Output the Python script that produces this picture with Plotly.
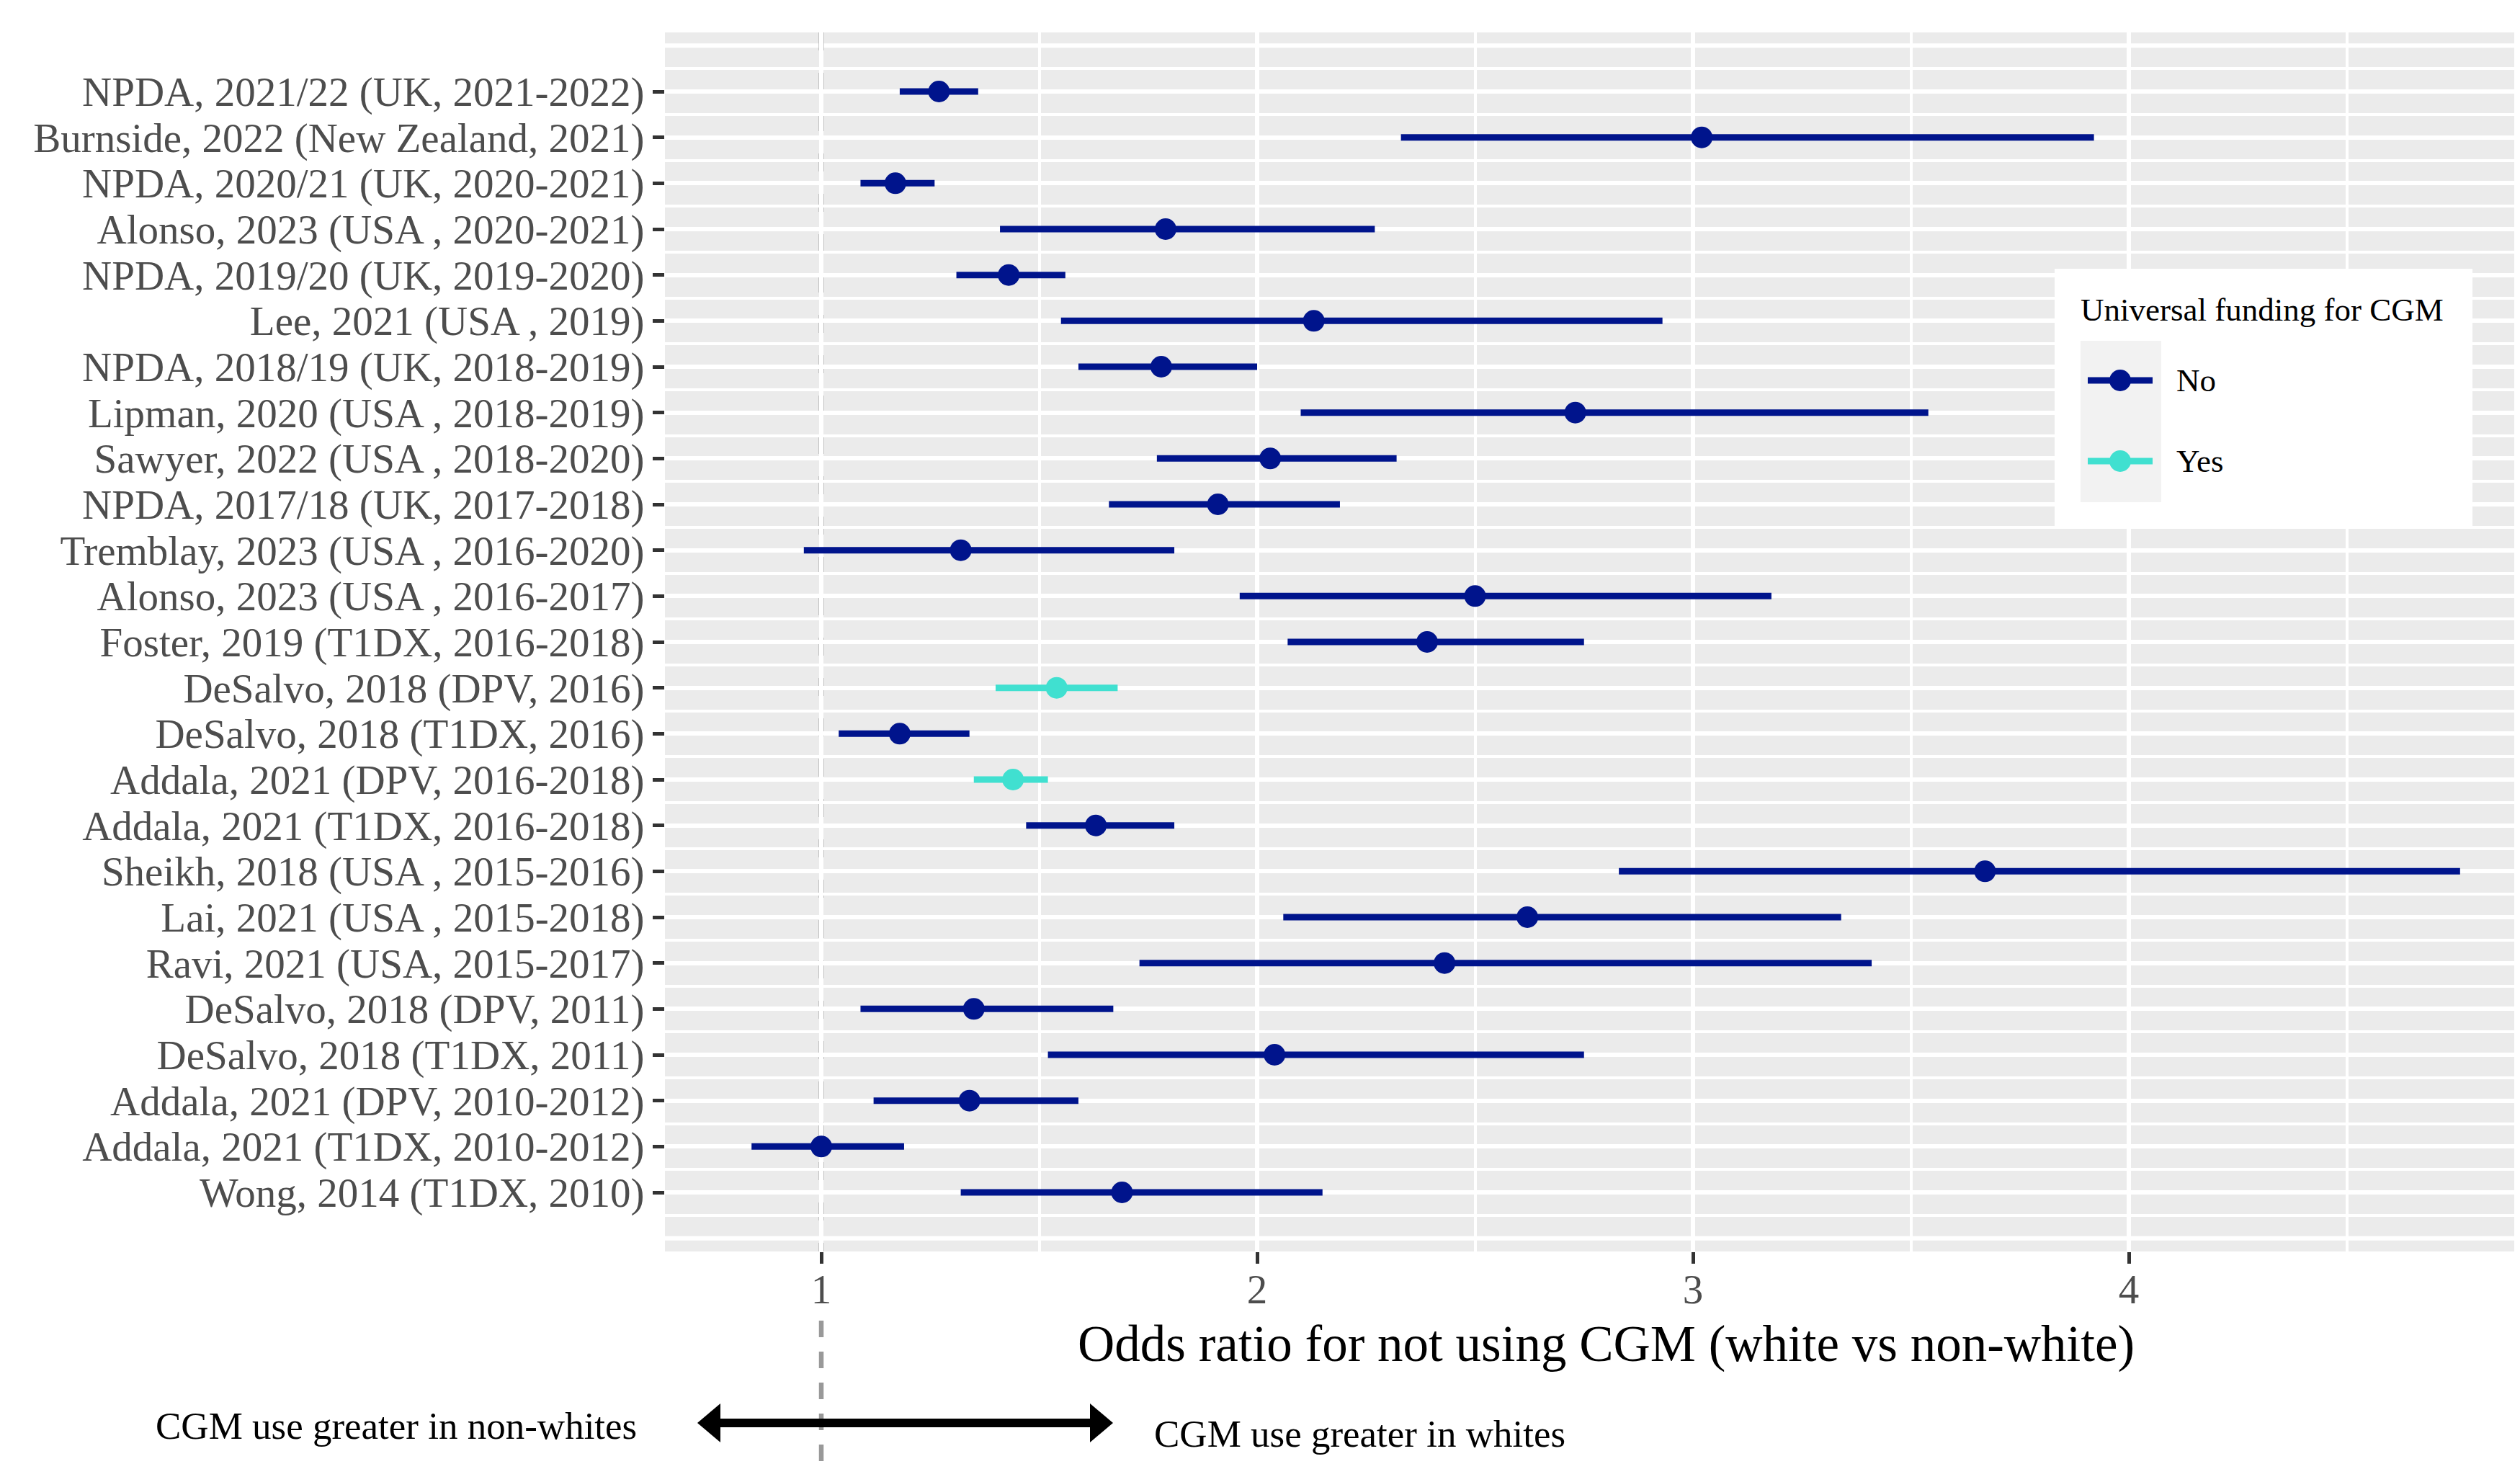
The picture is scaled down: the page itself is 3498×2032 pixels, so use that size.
import plotly.graph_objects as go

# ---------------- data ----------------
studies = [
    "NPDA, 2021/22 (UK, 2021-2022)",
    "Burnside, 2022 (New Zealand, 2021)",
    "NPDA, 2020/21 (UK, 2020-2021)",
    "Alonso, 2023 (USA , 2020-2021)",
    "NPDA, 2019/20 (UK, 2019-2020)",
    "Lee, 2021 (USA , 2019)",
    "NPDA, 2018/19 (UK, 2018-2019)",
    "Lipman, 2020 (USA , 2018-2019)",
    "Sawyer, 2022 (USA , 2018-2020)",
    "NPDA, 2017/18 (UK, 2017-2018)",
    "Tremblay, 2023 (USA , 2016-2020)",
    "Alonso, 2023 (USA , 2016-2017)",
    "Foster, 2019 (T1DX, 2016-2018)",
    "DeSalvo, 2018 (DPV, 2016)",
    "DeSalvo, 2018 (T1DX, 2016)",
    "Addala, 2021 (DPV, 2016-2018)",
    "Addala, 2021 (T1DX, 2016-2018)",
    "Sheikh, 2018 (USA , 2015-2016)",
    "Lai, 2021 (USA , 2015-2018)",
    "Ravi, 2021 (USA, 2015-2017)",
    "DeSalvo, 2018 (DPV, 2011)",
    "DeSalvo, 2018 (T1DX, 2011)",
    "Addala, 2021 (DPV, 2010-2012)",
    "Addala, 2021 (T1DX, 2010-2012)",
    "Wong, 2014 (T1DX, 2010)",
]
odds_ratio = [1.27, 3.02, 1.17, 1.79, 1.43, 2.13, 1.78, 2.73, 2.03, 1.91,
              1.32, 2.50, 2.39, 1.54, 1.18, 1.44, 1.63, 3.67, 2.62, 2.43,
              1.35, 2.04, 1.34, 1.00, 1.69]
ci_lower = [1.18, 2.33, 1.09, 1.41, 1.31, 1.55, 1.59, 2.10, 1.77, 1.66,
            0.96, 1.96, 2.07, 1.40, 1.04, 1.35, 1.47, 2.83, 2.06, 1.73,
            1.09, 1.52, 1.12, 0.84, 1.32]
ci_upper = [1.36, 3.92, 1.26, 2.27, 1.56, 2.93, 2.00, 3.54, 2.32, 2.19,
            1.81, 3.18, 2.75, 1.68, 1.34, 1.52, 1.81, 4.76, 3.34, 3.41,
            1.67, 2.75, 1.59, 1.19, 2.15]
universal_funding = ["No", "No", "No", "No", "No", "No", "No", "No", "No", "No",
                     "No", "No", "No", "Yes", "No", "Yes", "No", "No", "No", "No",
                     "No", "No", "No", "No", "No"]
x_ticks = [1, 2, 3, 4]
x_minor = [1.5, 2.5, 3.5, 4.5]
x_title = "Odds ratio for not using CGM (white vs non-white)"
legend_title = "Universal funding for CGM"

colors = {"No": "#00148C", "Yes": "#40E0D0"}
FONT = "Liberation Serif"

# ---------------- layout geometry (page pixels) ----------------
OFF = 8                      # default page margin around the figure div
W, H = 3498 - OFF, 2032 - OFF
PL, PR, PT, PB = 923, 3498, 45, 1737   # panel edges in page pixels


def fx(px):
    return (px - PL) / (PR - PL)


def fy(py):
    return (PB - py) / (PB - PT)


rows = list(range(1, len(studies) + 1))

fig = go.Figure()
for grp in ["No", "Yes"]:
    idx = [i for i, g in enumerate(universal_funding) if g == grp]
    fig.add_trace(go.Scatter(
        x=[odds_ratio[i] for i in idx],
        y=[rows[i] for i in idx],
        mode="markers",
        name=grp,
        showlegend=False,
        marker=dict(size=30, color=colors[grp], line=dict(width=0)),
        error_x=dict(
            type="data", symmetric=False,
            array=[ci_upper[i] - odds_ratio[i] for i in idx],
            arrayminus=[odds_ratio[i] - ci_lower[i] for i in idx],
            color=colors[grp], thickness=9, width=0,
        ),
    ))

shapes = []
# extra major gridlines at the padded (empty) rows
for yv in [0, len(studies) + 1]:
    shapes.append(dict(type="line", xref="paper", yref="y", x0=0, x1=1, y0=yv, y1=yv,
                       line=dict(color="white", width=6), layer="between"))
# dashed reference line at OR = 1
shapes.append(dict(type="line", xref="x", yref="paper", x0=1, x1=1, y0=1, y1=0,
                   line=dict(color="#999999", width=7, dash="25px,31px"), layer="between"))
shapes.append(dict(type="line", xref="x", yref="paper", x0=1, x1=1, y0=fy(1833), y1=fy(2032),
                   line=dict(color="#999999", width=6.5, dash="23px,20px"), layer="above"))
# double-headed arrow
ay = 1975
shapes.append(dict(type="line", xref="paper", yref="paper", x0=fx(998), x1=fx(1515), y0=fy(ay), y1=fy(ay),
                   line=dict(color="black", width=12), layer="above"))
shapes.append(dict(type="path", xref="paper", yref="paper",
                   path=f"M {fx(968)},{fy(ay)} L {fx(1000)},{fy(ay-27)} L {fx(1000)},{fy(ay+27)} Z",
                   fillcolor="black", line=dict(width=0), layer="above"))
shapes.append(dict(type="path", xref="paper", yref="paper",
                   path=f"M {fx(1545)},{fy(ay)} L {fx(1513)},{fy(ay-27)} L {fx(1513)},{fy(ay+27)} Z",
                   fillcolor="black", line=dict(width=0), layer="above"))
# legend box
shapes.append(dict(type="rect", xref="paper", yref="paper", x0=fx(2852), x1=fx(3432), y0=fy(373), y1=fy(730),
                   fillcolor="white", line=dict(width=0), layer="above"))
shapes.append(dict(type="rect", xref="paper", yref="paper", x0=fx(2888), x1=fx(3000), y0=fy(473), y1=fy(697),
                   fillcolor="#F2F2F2", line=dict(width=0), layer="above"))
annotations = []
for grp, ky in [("No", 528), ("Yes", 640)]:
    shapes.append(dict(type="line", xref="paper", yref="paper", x0=fx(2898), x1=fx(2988), y0=fy(ky), y1=fy(ky),
                       line=dict(color=colors[grp], width=9), layer="above"))
    shapes.append(dict(type="circle", xref="paper", yref="paper", xsizemode="pixel", ysizemode="pixel",
                       xanchor=fx(2943), yanchor=fy(ky), x0=-15, x1=15, y0=-15, y1=15,
                       fillcolor=colors[grp], line=dict(width=0), layer="above"))
    annotations.append(dict(text=grp, xref="paper", yref="paper", x=fx(3019), y=fy(ky),
                            xanchor="left", yanchor="middle", showarrow=False,
                            font=dict(family=FONT, size=45, color="black")))
annotations.append(dict(text=legend_title, xref="paper", yref="paper", x=fx(2886), y=fy(430),
                        xanchor="left", yanchor="middle", showarrow=False,
                        font=dict(family=FONT, size=45, color="black")))
# x-axis title
annotations.append(dict(text=x_title, xref="paper", yref="paper", x=fx(2229), y=fy(1865),
                        xanchor="center", yanchor="middle", showarrow=False,
                        font=dict(family=FONT, size=71, color="black")))
annotations.append(dict(text="CGM use greater in non-whites", xref="paper", yref="paper", x=fx(886), y=fy(1979),
                        xanchor="right", yanchor="middle", showarrow=False,
                        font=dict(family=FONT, size=53, color="black")))
annotations.append(dict(text="CGM use greater in whites", xref="paper", yref="paper", x=fx(1600), y=fy(1990),
                        xanchor="left", yanchor="middle", showarrow=False,
                        font=dict(family=FONT, size=53, color="black")))

fig.update_layout(
    width=W, height=H, autosize=False,
    margin=dict(l=PL - OFF, r=3498 - PR, t=PT - OFF, b=2032 - PB, pad=0),
    paper_bgcolor="white", plot_bgcolor="#EBEBEB",
    font=dict(family=FONT, color="#4D4D4D"),
    showlegend=False,
    shapes=shapes, annotations=annotations,
    xaxis=dict(
        range=[0.6413, 4.8975], tickmode="array", tickvals=x_ticks,
        ticktext=[str(v) for v in x_ticks],
        showgrid=True, gridcolor="white", gridwidth=6, zeroline=False,
        showline=False, ticks="outside", ticklen=16, tickwidth=5, tickcolor="#333333",
        ticklabelstandoff=-13,
        tickfont=dict(family=FONT, size=57, color="#4D4D4D"),
        minor=dict(tickvals=x_minor, showgrid=True, gridcolor="white", gridwidth=3.5, ticks=""),
    ),
    yaxis=dict(
        range=[len(studies) + 1.288, -0.288], tickmode="array", tickvals=rows, ticktext=studies,
        showgrid=True, gridcolor="white", gridwidth=6, zeroline=False,
        showline=False, ticks="outside", ticklen=16, tickwidth=5, tickcolor="#333333",
        tickfont=dict(family=FONT, size=57, color="#4D4D4D"),
        minor=dict(tickvals=[r + 0.5 for r in range(0, len(studies) + 1)], showgrid=True,
                   gridcolor="white", gridwidth=3.5, ticks=""),
    ),
)

fig.write_html("out.html")
